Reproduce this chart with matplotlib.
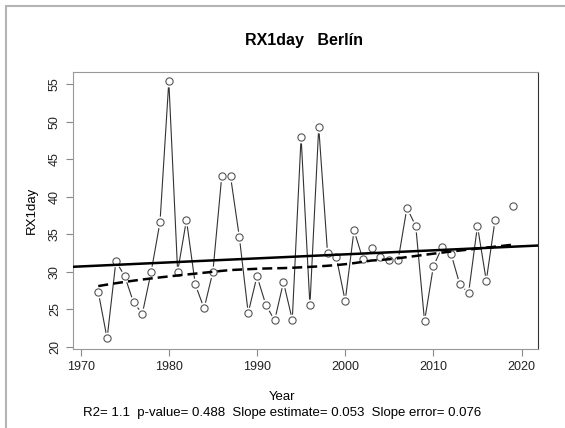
import matplotlib
matplotlib.use('Agg')
import matplotlib.pyplot as plt
import matplotlib.patches as patches
import numpy as np

# RX1day serie anual (Berlín); 2018 sin dato
years = np.arange(1972, 2020)
rx1day = [27.3, 21.1, 31.4, 29.4, 25.9, 24.4, 30.0, 36.6, 55.4, 30.0,
          36.9, 28.3, 25.1, 30.0, 42.7, 42.7, 34.6, 24.5, 29.4, 25.6,
          23.5, 28.6, 23.6, 48.0, 25.5, 49.3, 32.5, 31.9, 26.1, 35.5,
          31.7, 33.2, 31.9, 31.5, 31.5, 38.5, 36.1, 23.4, 30.7, 33.3,
          32.4, 28.3, 27.2, 36.1, 28.8, 36.9, np.nan, 38.8]
titulo = 'RX1day   Berlín'
pie = 'R2= 1.1  p-value= 0.488  Slope estimate= 0.053  Slope error= 0.076'
xticks = [1970, 1980, 1990, 2000, 2010, 2020]
yticks = [20, 25, 30, 35, 40, 45, 50, 55]


def lowess(x, y, f=2./3, iters=3):
	# lowess al estilo de R (sin delta)
	n = len(x)
	r = int(np.ceil(f * n))
	h = [np.sort(np.abs(x - x[i]))[r - 1] for i in range(n)]
	w = np.clip(np.abs((x[:, None] - x[None, :]) / np.array(h)), 0.0, 1.0)
	w = (1 - w ** 3) ** 3
	yest = np.zeros(n)
	delta = np.ones(n)
	for _ in range(iters + 1):
		for i in range(n):
			wi = delta * w[:, i]
			b = np.array([np.sum(wi * y), np.sum(wi * y * x)])
			A = np.array([[np.sum(wi), np.sum(wi * x)],
						  [np.sum(wi * x), np.sum(wi * x * x)]])
			beta = np.linalg.solve(A, b)
			yest[i] = beta[0] + beta[1] * x[i]
		res = y - yest
		s = np.median(np.abs(res))
		delta = np.clip(res / (6.0 * s), -1, 1)
		delta = (1 - delta ** 2) ** 2
	return yest


y = np.array(rx1day, dtype=float)
ok = ~np.isnan(y)
xo = years[ok].astype(float)
yo = y[ok]
pend, inter = np.polyfit(xo, yo, 1)
suave = lowess(xo, yo)

plt.rcParams['font.family'] = ['Liberation Sans', 'DejaVu Sans']
fig = plt.figure(figsize=(5.65, 4.28), dpi=100)
W, H = 565., 428.
ax = fig.add_axes([72.7 / W, 1 - 349.3 / H, (538.3 - 72.7) / W, (349.3 - 71.7) / H])

# marco gris de la imagen
fig.patches.append(patches.Rectangle((6 / W, -0.1), 1.2, 1 - 6 / H + 0.1,
	transform=fig.transFigure, fill=False, edgecolor='#b4b4b4', linewidth=1.5))

ax.plot(years, y, color='#333333', linewidth=0.8, zorder=2)
ax.plot(years, y, 'o', markersize=7.5, markerfacecolor='white',
		markeredgecolor='white', zorder=3)
ax.plot(years, y, 'o', markersize=5.2, markerfacecolor='white',
		markeredgecolor='#555555', markeredgewidth=0.8, zorder=4)
ax.axline((xo[0], inter + pend * xo[0]), slope=pend, color='black', linewidth=1.8, zorder=5)
ax.plot(xo, suave, color='black', linewidth=1.8, linestyle=(0, (4, 2)), zorder=5)

ax.set_xlim(1969.1, 2021.9)
ax.set_ylim(19.65, 56.67)
ax.set_xticks(xticks)
ax.set_yticks(yticks)
ax.tick_params(axis='both', labelsize=9, color='#888888', length=5, labelcolor='#222222')
for lab in ax.get_yticklabels():
	lab.set_rotation(90)
	lab.set_va('center')
for s in ['top', 'left', 'bottom']:
	ax.spines[s].set_color('#999999')
ax.spines['right'].set_color('#333333')

ax.set_ylabel('RX1day', fontsize=9.5, labelpad=8)
fig.text(304 / W, 1 - 41 / H, titulo, ha='center', va='center', fontsize=11.5, fontweight='bold')
fig.text(282 / W, 1 - 397 / H, 'Year', ha='center', va='center', fontsize=9.5)
fig.text(282 / W, 1 - 413 / H, pie, ha='center', va='center', fontsize=9.5)

fig.savefig('out.png', dpi=100)
